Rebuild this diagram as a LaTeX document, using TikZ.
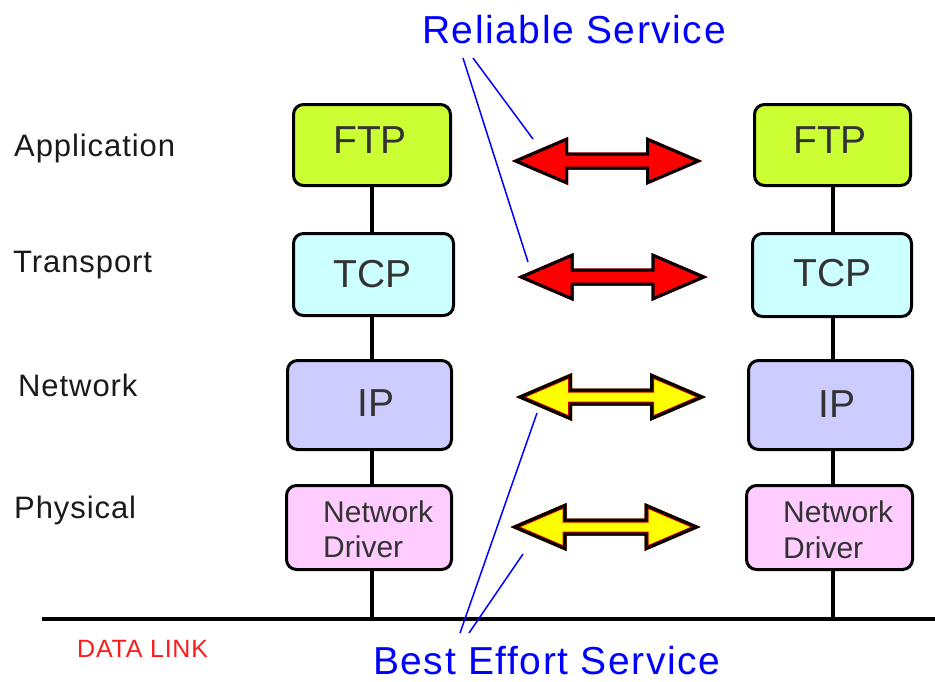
\documentclass[tikz,border=0pt]{standalone}
\usepackage{fontspec}
\setmainfont{Liberation Sans}
\newfontfamily\labelfont[LetterSpace=3]{Liberation Sans}
\newfontfamily\captionfont[LetterSpace=4]{Liberation Sans}

\definecolor{ftpcol}{HTML}{CCFF33}
\definecolor{tcpcol}{HTML}{CCFFFF}
\definecolor{ipcol}{HTML}{CCCCFF}
\definecolor{drvcol}{HTML}{FFCCFF}
\definecolor{boxtextcol}{HTML}{333333}
\definecolor{labelcol}{HTML}{1A1A1A}
\definecolor{svcblue}{HTML}{0000FF}
\definecolor{linkred}{HTML}{FF1A1A}
\definecolor{arrowred}{HTML}{FF0000}
\definecolor{arrowyellow}{HTML}{FFFF00}
\definecolor{rimred}{HTML}{CC0000}

\tikzset{
  layerbox/.style={draw=black, line width=3pt, rounded corners=10pt, inner sep=0pt},
  boxtext/.style={text=boxtextcol, inner sep=0pt, anchor=base,
    font=\fontsize{39}{39}\selectfont},
  drvtext/.style={text=boxtextcol, inner sep=0pt, anchor=base west,
    font=\fontsize{30}{30}\selectfont},
  layerlabel/.style={text=labelcol, inner sep=0pt, anchor=base west,
    font=\labelfont\fontsize{31}{31}\selectfont},
  svclabel/.style={text=svcblue, inner sep=0pt, anchor=base west,
    font=\captionfont\fontsize{39}{39}\selectfont},
  stem/.style={black, line width=4pt},
  pointer/.style={svcblue, line width=1.5pt},
  % double-headed block arrow: fill colour / inner rim colour
  pics/peerarrow/.style args={#1/#2}{code={
    \begin{scope}
      \clip (-95,0) -- (-39,-24) -- (-39,-8.5) -- (39,-8.5) -- (39,-24) -- (95,0)
        -- (39,24) -- (39,8.5) -- (-39,8.5) -- (-39,24) -- cycle;
      \fill[#1] (-95,0) -- (-39,-24) -- (-39,-8.5) -- (39,-8.5) -- (39,-24) -- (95,0)
        -- (39,24) -- (39,8.5) -- (-39,8.5) -- (-39,24) -- cycle;
      \draw[#2, line width=8pt, line join=miter] (-95,0) -- (-39,-24) -- (-39,-8.5)
        -- (39,-8.5) -- (39,-24) -- (95,0) -- (39,24) -- (39,8.5) -- (-39,8.5)
        -- (-39,24) -- cycle;
      \draw[black, line width=6pt, line join=miter] (-95,0) -- (-39,-24) -- (-39,-8.5)
        -- (39,-8.5) -- (39,-24) -- (95,0) -- (39,24) -- (39,8.5) -- (-39,8.5)
        -- (-39,24) -- cycle;
    \end{scope}
  }}
}

\begin{document}
\begin{tikzpicture}[x=1pt, y=-1pt]
  \useasboundingbox (0,0) rectangle (935,681);

  % layer names
  \node[layerlabel] (lblApp) at (14,156) {Application};
  \node[layerlabel] (lblTrn) at (13,272) {Transport};
  \node[layerlabel] (lblNet) at (18,396) {Network};
  \node[layerlabel] (lblPhy) at (14,518) {Physical};

  % left protocol stack
  \node[layerbox, fill=ftpcol, minimum width=157pt, minimum height=81pt] (ftpL) at (372,145) {};
  \node[layerbox, fill=tcpcol, minimum width=160pt, minimum height=82pt] (tcpL) at (373.5,274.5) {};
  \node[layerbox, fill=ipcol,  minimum width=164pt, minimum height=89pt] (ipL)  at (369.5,405) {};
  \node[layerbox, fill=drvcol, minimum width=165pt, minimum height=84pt] (drvL) at (369,527.5) {};

  % right protocol stack
  \node[layerbox, fill=ftpcol, minimum width=156pt, minimum height=81pt] (ftpR) at (832.5,145) {};
  \node[layerbox, fill=tcpcol, minimum width=159pt, minimum height=83pt] (tcpR) at (832,275) {};
  \node[layerbox, fill=ipcol,  minimum width=164pt, minimum height=89pt] (ipR)  at (830.5,405) {};
  \node[layerbox, fill=drvcol, minimum width=166pt, minimum height=84pt] (drvR) at (829.5,527.5) {};

  % box captions
  \node[boxtext] (ftpLt) at (370,153) {FTP};
  \node[boxtext] (tcpLt) at (372.5,287) {TCP};
  \node[boxtext] (ipLt)  at (376,416) {IP};
  \node[drvtext] (drvLa) at (323,522) {Network};
  \node[drvtext] (drvLb) at (323,557) {Driver};
  \node[boxtext] (ftpRt) at (830,153) {FTP};
  \node[boxtext] (tcpRt) at (832.5,286) {TCP};
  \node[boxtext] (ipRt)  at (837,417) {IP};
  \node[drvtext] (drvRa) at (783,522) {Network};
  \node[drvtext] (drvRb) at (783,558) {Driver};

  % shared medium
  \coordinate (linkW) at (42,619);
  \coordinate (linkE) at (935,619);
  \draw[black, line width=4.5pt] (linkW) -- (linkE);
  \node[text=linkred, inner sep=0pt, anchor=base west,
        font=\labelfont\fontsize{25}{25}\selectfont] (dlink) at (77,657) {DATA LINK};

  % stack stems
  \draw[stem] (ftpL.south) -- (ftpL.south |- tcpL.north);
  \draw[stem] (tcpL.south -| ftpL.south) -- (ftpL.south |- ipL.north);
  \draw[stem] (ipL.south -| ftpL.south) -- (ftpL.south |- drvL.north);
  \draw[stem] (drvL.south -| ftpL.south) -- (ftpL.south |- linkW);
  \draw[stem] (ftpR.south) -- (ftpR.south |- tcpR.north);
  \draw[stem] (tcpR.south -| ftpR.south) -- (ftpR.south |- ipR.north);
  \draw[stem] (ipR.south -| ftpR.south) -- (ftpR.south |- drvR.north);
  \draw[stem] (drvR.south -| ftpR.south) -- (ftpR.south |- linkW);

  % peer-to-peer arrows
  \pic at (607,161)   {peerarrow=arrowred/arrowred};
  \pic at (612.5,277) {peerarrow=arrowred/arrowred};
  \pic at (611,397)   {peerarrow=arrowyellow/rimred};
  \pic at (605.5,527) {peerarrow=arrowyellow/rimred};

  % service captions and their pointers
  \node[svclabel] (reliable) at (422,43) {Reliable Service};
  \node[svclabel] (besteff) at (373,674) {Best Effort Service};

  \coordinate (relA) at (463,58);
  \coordinate (relB) at (473,58);
  \coordinate (relToTcp) at (528,262);
  \coordinate (relToFtp) at (533,139);
  \draw[pointer] (relA) -- (relToTcp);
  \draw[pointer] (relB) -- (relToFtp);

  \coordinate (beA) at (460,633);
  \coordinate (beB) at (469,633);
  \coordinate (beToIp) at (537,413);
  \coordinate (beToDrv) at (523,554);
  \draw[pointer] (beA) -- (beToIp);
  \draw[pointer] (beB) -- (beToDrv);
\end{tikzpicture}
\end{document}
